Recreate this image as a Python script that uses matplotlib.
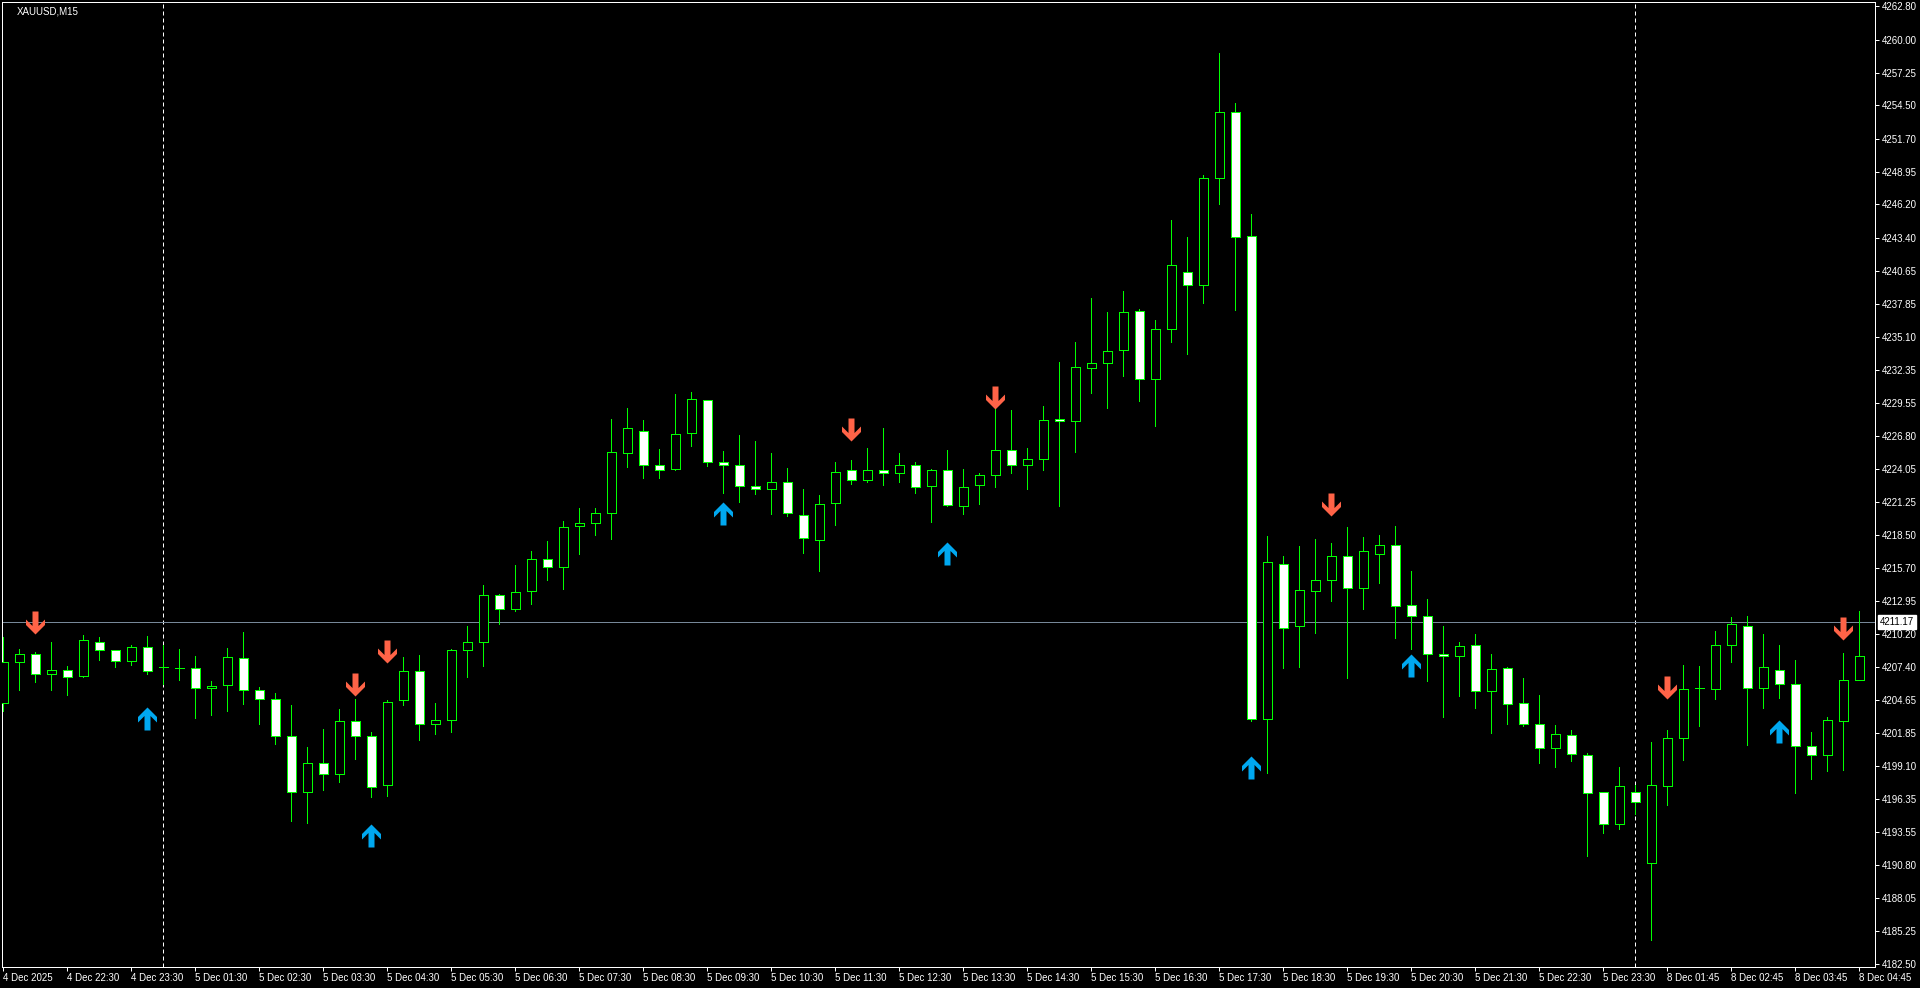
import matplotlib
matplotlib.use("Agg")
import matplotlib.pyplot as plt
from matplotlib.path import Path
from matplotlib.patches import Rectangle
from matplotlib import font_manager
import matplotlib.transforms as mtransforms

_names = {f.name for f in font_manager.fontManager.ttflist}
if "Liberation Sans Narrow" in _names:
    plt.rcParams['font.family'] = ['Liberation Sans Narrow', 'DejaVu Sans']
    FS = 8
else:
    plt.rcParams['font.family'] = ['Liberation Sans', 'DejaVu Sans']
    FS = 7

# ---------------- data ----------------
symbol_title = "XAUUSD,M15"

opens = [4204.40, 4207.83, 4208.50, 4206.82, 4207.16, 4206.63, 4209.50, 4208.83, 4207.91, 4209.09,
         4207.44, 4207.35, 4207.33, 4205.65, 4205.90, 4208.16, 4205.48, 4204.73, 4201.63, 4196.94,
         4199.37, 4198.45, 4202.89, 4201.63, 4197.53, 4204.65, 4207.08, 4202.64, 4202.97, 4208.83,
         4209.50, 4213.45, 4212.27, 4213.78, 4216.46, 4215.79, 4219.22, 4219.48, 4220.31, 4225.34,
         4227.18, 4224.33, 4224.00, 4227.01, 4229.78, 4224.58, 4224.33, 4222.57, 4222.32, 4222.91,
         4220.15, 4218.05, 4221.15, 4223.91, 4223.08, 4223.91, 4223.66, 4224.33, 4222.57, 4223.91,
         4220.90, 4222.65, 4223.52, 4225.61, 4224.38, 4224.83, 4228.21, 4228.04, 4232.49, 4232.90,
         4233.97, 4237.26, 4231.54, 4235.74, 4240.51, 4239.48, 4248.41, 4253.93, 4243.52, 4203.06,
         4216.07, 4210.84, 4213.78, 4214.70, 4216.71, 4214.03, 4216.87, 4217.63, 4212.60, 4211.68,
         4208.50, 4208.33, 4209.25, 4205.40, 4207.33, 4204.40, 4202.64, 4200.63, 4201.72, 4200.04,
         4196.94, 4194.26, 4196.94, 4191.00, 4197.44, 4201.46, 4205.62, 4205.57, 4209.25, 4210.84,
         4205.65, 4207.16, 4205.99, 4200.79, 4200.04, 4202.89, 4206.32]
highs = [4209.92, 4208.92, 4208.67, 4209.53, 4207.49, 4210.12, 4209.92, 4208.83, 4209.28, 4210.01,
         4209.28, 4208.92, 4208.33, 4206.24, 4209.00, 4210.34, 4205.74, 4205.23, 4204.23, 4200.71,
         4202.22, 4203.89, 4204.73, 4201.97, 4204.65, 4208.25, 4208.42, 4204.40, 4208.92, 4210.84,
         4214.28, 4213.53, 4215.96, 4217.13, 4217.97, 4219.64, 4220.73, 4220.73, 4228.19, 4229.11,
         4228.10, 4225.67, 4230.28, 4230.45, 4229.78, 4225.51, 4226.85, 4226.34, 4225.34, 4224.08,
         4222.32, 4221.82, 4224.58, 4224.75, 4225.76, 4227.43, 4225.34, 4224.58, 4224.00, 4225.59,
         4224.00, 4223.64, 4229.03, 4228.99, 4225.74, 4229.28, 4232.98, 4234.67, 4238.33, 4237.18,
         4238.95, 4237.43, 4236.48, 4244.87, 4243.43, 4248.70, 4258.87, 4254.67, 4245.37, 4218.41,
         4216.73, 4217.54, 4218.13, 4217.82, 4219.16, 4218.30, 4218.47, 4219.22, 4215.45, 4213.11,
         4210.84, 4209.50, 4210.17, 4208.50, 4207.41, 4206.49, 4205.07, 4202.53, 4202.13, 4200.21,
         4196.94, 4199.04, 4197.53, 4201.13, 4202.13, 4207.58, 4207.49, 4210.43, 4211.60, 4211.68,
         4210.17, 4209.25, 4208.00, 4201.97, 4203.22, 4208.58, 4212.10]
lows = [4203.70, 4205.46, 4206.13, 4205.51, 4205.04, 4206.55, 4208.02, 4207.38, 4207.55, 4206.80,
        4205.96, 4206.29, 4203.11, 4203.36, 4203.70, 4204.28, 4202.61, 4200.93, 4194.48, 4194.32,
        4197.11, 4197.75, 4199.68, 4196.50, 4196.58, 4204.20, 4201.27, 4201.80, 4201.94, 4206.55,
        4207.47, 4211.02, 4212.11, 4212.69, 4214.70, 4213.95, 4216.88, 4218.47, 4218.14, 4224.17,
        4223.24, 4223.24, 4223.91, 4225.92, 4224.25, 4221.99, 4221.24, 4221.90, 4220.23, 4220.06,
        4216.96, 4215.46, 4219.31, 4222.74, 4222.91, 4222.66, 4222.91, 4221.99, 4219.56, 4220.90,
        4220.23, 4221.09, 4222.49, 4223.68, 4222.32, 4223.93, 4220.92, 4225.45, 4230.39, 4229.11,
        4231.79, 4229.69, 4227.63, 4234.63, 4233.64, 4237.92, 4246.23, 4237.34, 4202.90, 4198.54,
        4207.34, 4207.38, 4210.31, 4212.91, 4206.46, 4212.32, 4214.45, 4209.81, 4208.92, 4206.21,
        4203.19, 4204.95, 4203.95, 4201.86, 4202.61, 4202.44, 4199.34, 4199.01, 4199.51, 4191.58,
        4193.51, 4193.84, 4195.10, 4184.55, 4195.85, 4199.62, 4202.44, 4204.70, 4207.83, 4200.85,
        4203.95, 4204.79, 4196.86, 4198.03, 4198.67, 4198.76, 4206.32]
closes = [4207.83, 4208.50, 4206.82, 4207.16, 4206.57, 4209.67, 4208.83, 4207.91, 4209.09, 4207.08,
          4207.44, 4207.35, 4205.65, 4205.82, 4208.25, 4205.48, 4204.73, 4201.63, 4196.94, 4199.37,
          4198.45, 4202.89, 4201.63, 4197.36, 4204.48, 4207.08, 4202.64, 4202.97, 4208.83, 4209.50,
          4213.44, 4212.27, 4213.70, 4216.46, 4215.79, 4219.14, 4219.48, 4220.31, 4225.42, 4227.43,
          4224.33, 4223.91, 4226.93, 4229.86, 4224.58, 4224.33, 4222.57, 4222.32, 4222.91, 4220.31,
          4218.22, 4221.07, 4223.75, 4223.08, 4223.91, 4223.66, 4224.33, 4222.49, 4223.91, 4220.98,
          4222.49, 4223.52, 4225.61, 4224.38, 4224.83, 4228.12, 4228.00, 4232.57, 4232.90, 4233.89,
          4237.18, 4231.54, 4235.74, 4241.09, 4239.48, 4248.41, 4253.93, 4243.47, 4203.06, 4216.23,
          4210.72, 4213.86, 4214.70, 4216.71, 4214.03, 4217.13, 4217.63, 4212.52, 4211.68, 4208.50,
          4208.33, 4209.17, 4205.40, 4207.24, 4204.31, 4202.64, 4200.63, 4201.80, 4200.12, 4196.86,
          4194.26, 4197.44, 4196.10, 4197.53, 4201.46, 4205.57, 4205.62, 4209.25, 4211.01, 4205.65,
          4207.41, 4205.99, 4200.79, 4200.04, 4202.97, 4206.32, 4208.33]

# signal arrows: bar index and tip price
down_arrow_bars = [2, 22, 24, 53, 62, 83, 104, 115]
down_arrow_prices = [4210.20, 4205.01, 4207.75, 4226.37, 4229.03, 4220.08, 4204.76, 4209.70]
up_arrow_bars = [9, 23, 45, 59, 78, 88, 111]
up_arrow_prices = [4204.03, 4194.29, 4221.29, 4217.88, 4199.93, 4208.53, 4202.94]

current_price = 4211.17
separator_bars = [10, 102]

time_tick_bars = list(range(0, 117, 4))
time_labels = ["4 Dec 2025", "4 Dec 22:30", "4 Dec 23:30", "5 Dec 01:30", "5 Dec 02:30",
               "5 Dec 03:30", "5 Dec 04:30", "5 Dec 05:30", "5 Dec 06:30", "5 Dec 07:30",
               "5 Dec 08:30", "5 Dec 09:30", "5 Dec 10:30", "5 Dec 11:30", "5 Dec 12:30",
               "5 Dec 13:30", "5 Dec 14:30", "5 Dec 15:30", "5 Dec 16:30", "5 Dec 17:30",
               "5 Dec 18:30", "5 Dec 19:30", "5 Dec 20:30", "5 Dec 21:30", "5 Dec 22:30",
               "5 Dec 23:30", "8 Dec 01:45", "8 Dec 02:45", "8 Dec 03:45", "8 Dec 04:45"]
price_labels = ["4262.80", "4260.00", "4257.25", "4254.50", "4251.70", "4248.95", "4246.20",
                "4243.40", "4240.65", "4237.85", "4235.10", "4232.35", "4229.55", "4226.80",
                "4224.05", "4221.25", "4218.50", "4215.70", "4212.95", "4210.20", "4207.40",
                "4204.65", "4201.85", "4199.10", "4196.35", "4193.55", "4190.80", "4188.05",
                "4185.25", "4182.50"]

# ---------------- style ----------------
BG = "black"
CANDLE = "#00FF00"
BEAR_FILL = "white"
BULL_FILL = "black"
DOWN_COL = "#FF6347"
UP_COL = "#00A8F0"
PX = 0.72  # points per pixel at dpi 100

W, H = 1920, 988
fig = plt.figure(figsize=(W / 100, H / 100), dpi=100, facecolor=BG)
ax_left, ax_right, ax_top, ax_bottom = 2, 1875, 2, 967
ax = fig.add_axes([ax_left / W, (H - ax_bottom) / H, (ax_right - ax_left) / W, (ax_bottom - ax_top) / H])
ax.set_facecolor(BG)

bar_px = 16.0
first_center = 3.3
xmin = -(first_center - ax_left) / bar_px
xmax = xmin + (ax_right - ax_left) / bar_px
px_per_unit = 11.93
ytop_price, ytop_px = 4262.80, 6.3
ymax = ytop_price + (ytop_px - ax_top) / px_per_unit
ymin = ymax - (ax_bottom - ax_top) / px_per_unit
ax.set_xlim(xmin, xmax)
ax.set_ylim(ymin, ymax)

# period separators
for b in separator_bars:
    ax.axvline(b, color="white", lw=PX, ls=(0, (4, 3)), zorder=1)

# current price line
ax.axhline(current_price, color="#778899", lw=PX, zorder=1.5)

# candles
body_w = 0.58
for i, (o, h, l, c) in enumerate(zip(opens, highs, lows, closes)):
    ax.vlines(i, l, h, color=CANDLE, lw=PX, zorder=2, antialiased=False)
    lo, hi = min(o, c), max(o, c)
    fill = BEAR_FILL if c < o else BULL_FILL
    ax.add_patch(Rectangle((i - body_w / 2, lo), body_w, hi - lo, facecolor=fill,
                           edgecolor=CANDLE, lw=PX, zorder=3, antialiased=False))

# arrows (1 unit = 1 px, tip at origin)
down_verts = [(-3, 23), (3, 23), (3, 8.5), (9.5, 15), (9.5, 9.5), (0, 0),
              (-9.5, 9.5), (-9.5, 15), (-3, 8.5), (-3, 23)]
up_verts = [(x, -y) for x, y in down_verts]
down_path = Path(down_verts, closed=True)
up_path = Path(up_verts, closed=True)
msize = 46 * PX
ax.plot(down_arrow_bars, down_arrow_prices, linestyle="none", marker=down_path, ms=msize,
        mfc=DOWN_COL, mec=DOWN_COL, mew=0, zorder=5)
ax.plot(up_arrow_bars, up_arrow_prices, linestyle="none", marker=up_path, ms=msize,
        mfc=UP_COL, mec=UP_COL, mew=0, zorder=5)

# axes styling
for s in ax.spines.values():
    s.set_color("white")
    s.set_linewidth(PX)
ax.yaxis.tick_right()
ax.set_yticks([float(v) for v in price_labels])
ax.set_yticklabels(price_labels)
ax.set_xticks(time_tick_bars)
ax.set_xticklabels(time_labels, ha="left")
ax.tick_params(axis="x", colors="white", length=3, width=PX, pad=1, labelsize=FS)
ax.tick_params(axis="y", colors="white", length=3, width=PX, pad=2, labelsize=FS)

# current price tag
trans = mtransforms.blended_transform_factory(ax.transAxes, ax.transData)
ax.annotate(f"{current_price:.2f}", xy=(1.0, current_price), xycoords=trans,
            xytext=(3.5, 0), textcoords="offset points", ha="left", va="center",
            fontsize=FS, color="black", zorder=10, annotation_clip=False,
            bbox=dict(boxstyle="square,pad=0.2", fc="white", ec="white"))

# title
fig.text(17 / W, 1 - 11 / H, symbol_title, ha="left", va="center", color="white", fontsize=FS)

fig.savefig("out.png", dpi=100, facecolor=BG)
